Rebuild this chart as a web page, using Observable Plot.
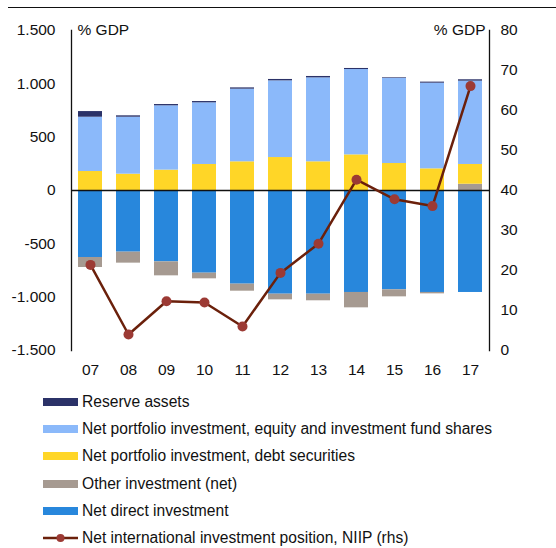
<!DOCTYPE html>
<html>
<head>
<meta charset="utf-8">
<script src="https://cdn.jsdelivr.net/npm/d3@7"></script>
<script src="https://cdn.jsdelivr.net/npm/@observablehq/plot@0.6"></script>
<style>
  html, body { margin: 0; padding: 0; background: #fff; }
  body { width: 556px; height: 548px; position: relative; overflow: hidden;
         font-family: "Liberation Sans", Arial, sans-serif; color: #111; }
  #topline { position: absolute; left: 8px; right: 0; top: 7px; height: 0; border-top: 1.3px solid #111; }
  #chart { position: absolute; left: 0; top: 0; }
  #legend { position: absolute; left: 43px; top: 388px; font-size: 15.6px; }
  .row { height: 27.3px; display: flex; align-items: center; }
  .sw { width: 35px; height: 8px; margin-right: 4px; flex: none; }
  .row svg { margin-right: 4px; flex: none; }
</style>
</head>
<body>
<div id="topline"></div>
<div id="chart"></div>
<div id="legend"></div>
<script>
const years   = ["07","08","09","10","11","12","13","14","15","16","17"];
const reserve = [53, 13, 12, 12, 12, 13, 13, 10, 6, 10, 13];
const equity  = [509, 534, 603, 578, 681, 719, 787, 800, 797, 803, 781];
const debt    = [178, 153, 191, 244, 269, 309, 269, 334, 253, 203, 185];
const other   = [-94, -103, -131, -53, -66, -53, -62, -144, -66, -13, 59];
const direct  = [-628, -578, -669, -775, -878, -972, -972, -956, -931, -956, -956];
const niip    = [21.4, 4.0, 12.3, 12.0, 6.0, 19.4, 26.7, 42.7, 37.8, 36.1, 66.1];

const leftTicks  = [-1500, -1000, -500, 0, 500, 1000, 1500];
const rightTicks = [0, 10, 20, 30, 40, 50, 60, 70, 80];

const names = {
  reserve: "Reserve assets",
  equity: "Net portfolio investment, equity and investment fund shares",
  debt: "Net portfolio investment, debt securities",
  other: "Other investment (net)",
  direct: "Net direct investment",
  niip: "Net international investment position, NIIP (rhs)"
};
const colors = {
  reserve: "#2b3268",
  equity: "#8bb9fa",
  debt: "#ffd627",
  other: "#a69a91",
  direct: "#2887dc",
  niip: "#6b200b"
};
const dotColor = "#9c3a34";

// right axis mapping: 0..80 -> -1500..1500
const toLeft = v => (v - 40) * 37.5;
const toRight = v => v / 37.5 + 40;

const series = {reserve, equity, debt, other, direct};
const posOrder = ["other", "debt", "equity", "reserve"];
const negOrder = ["direct", "other"];
const pos = [], neg = [];
years.forEach((y, i) => {
  posOrder.forEach(k => { const v = series[k][i]; if (v > 0) pos.push({year: y, key: k, value: v}); });
  negOrder.forEach(k => { const v = series[k][i]; if (v < 0) neg.push({year: y, key: k, value: v}); });
});
const line = years.map((y, i) => ({year: y, v: toLeft(niip[i])}));

const loc = d3.formatLocale({decimal: ",", thousands: ".", grouping: [3], currency: ["", ""], minus: "-"});
const fmt = loc.format(",d");

const plot = Plot.plot({
  width: 556,
  height: 390,
  marginTop: 30,
  marginBottom: 40,
  marginLeft: 71,
  marginRight: 67,
  style: {fontFamily: "'Liberation Sans', Arial, sans-serif", fontSize: "15.5px", color: "#111", background: "transparent"},
  x: {domain: years, paddingInner: 0.37, paddingOuter: 0.185, axis: null},
  y: {domain: [-1500, 1500], axis: null},
  marks: [
    Plot.barY(pos, Plot.stackY({order: posOrder}, {x: "year", y: "value", z: "key", fill: d => colors[d.key], inset: 0})),
    Plot.barY(neg, Plot.stackY({order: negOrder}, {x: "year", y: "value", z: "key", fill: d => colors[d.key], inset: 0})),
    Plot.ruleY([0], {stroke: "#111", strokeWidth: 1.3}),
    Plot.frame({anchor: "left", stroke: "#111", strokeWidth: 1.3}),
    Plot.frame({anchor: "right", stroke: "#111", strokeWidth: 1.3}),
    Plot.axisY({anchor: "left", ticks: leftTicks, tickFormat: fmt, tickSize: 0, tickPadding: 16, label: null}),
    Plot.axisY({anchor: "right", ticks: rightTicks.map(toLeft), tickFormat: v => String(Math.round(toRight(v))), tickSize: 0, tickPadding: 11, label: null}),
    Plot.axisX({anchor: "bottom", tickSize: 0, tickPadding: 13, label: null}),
    Plot.line(line, {x: "year", y: "v", stroke: colors.niip, strokeWidth: 2.5}),
    Plot.dot(line, {x: "year", y: "v", r: 5, fill: dotColor, stroke: "none"}),
    Plot.text(["% GDP"], {frameAnchor: "top-left", dx: 6, textAnchor: "start", lineAnchor: "middle", fill: "#111"}),
    Plot.text(["% GDP"], {frameAnchor: "top-right", dx: -4, textAnchor: "end", lineAnchor: "middle", fill: "#111"})
  ]
});
document.getElementById("chart").appendChild(plot);

const legend = document.getElementById("legend");
["reserve", "equity", "debt", "other", "direct", "niip"].forEach(k => {
  const row = document.createElement("div");
  row.className = "row";
  if (k === "niip") {
    row.innerHTML = `<svg width="35" height="12"><line x1="0" y1="6" x2="35" y2="6" stroke="${colors.niip}" stroke-width="2.5"/><circle cx="17.5" cy="6" r="4" fill="${dotColor}"/></svg>`;
  } else {
    row.innerHTML = `<div class="sw" style="background:${colors[k]}"></div>`;
  }
  const t = document.createElement("span");
  t.textContent = names[k];
  row.appendChild(t);
  legend.appendChild(row);
});
</script>
</body>
</html>
